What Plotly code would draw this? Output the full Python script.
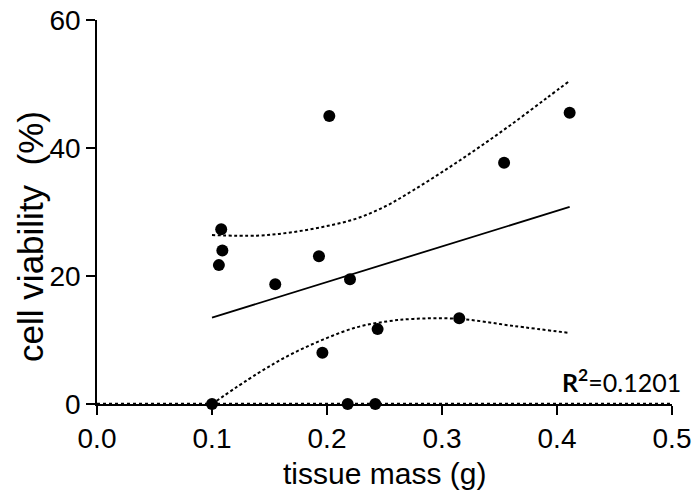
import plotly.graph_objects as go

# Scatter data
mass = [0.100, 0.108, 0.109, 0.106, 0.155, 0.193, 0.202, 0.196, 0.220, 0.218, 0.242, 0.244, 0.315, 0.354, 0.411]
viability = [0.0, 27.3, 24.0, 21.7, 18.7, 23.1, 45.0, 8.0, 19.5, 0.0, 0.0, 11.7, 13.4, 37.7, 45.5]

# Regression line (read)
fit_x = [0.100, 0.411]
fit_y = [13.5, 30.8]

# Confidence band curves (read)
upper_x = [0.100, 0.139, 0.168, 0.197, 0.226, 0.252, 0.275, 0.304, 0.333, 0.362, 0.391, 0.411]
upper_y = [26.4, 26.3, 26.8, 27.7, 29.0, 31.0, 33.4, 36.7, 40.2, 43.9, 47.8, 50.5]
lower_x = [0.100, 0.139, 0.168, 0.197, 0.226, 0.252, 0.275, 0.315, 0.362, 0.411]
lower_y = [0.0, 4.7, 7.7, 10.1, 12.0, 12.9, 13.3, 13.3, 12.2, 11.1]

# Zero reference line
zero_x = [0.0, 0.5]
zero_y = [0.0, 0.0]

x_ticks = [0.0, 0.1, 0.2, 0.3, 0.4, 0.5]
x_ticktext = ["0.0", "0.1", "0.2", "0.3", "0.4", "0.5"]
y_ticks = [0, 20, 40, 60]
y_ticktext = ["0", "20", "40", "60"]

FONT = "Liberation Sans, Arial, sans-serif"

fig = go.Figure()
fig.add_trace(go.Scatter(x=zero_x, y=zero_y, mode="lines",
                         line=dict(color="black", width=2.5, dash="dot"),
                         cliponaxis=False, showlegend=False))
fig.add_trace(go.Scatter(x=upper_x, y=upper_y, mode="lines",
                         line=dict(color="black", width=2, dash="3px,2.5px", shape="spline", smoothing=1),
                         showlegend=False))
fig.add_trace(go.Scatter(x=lower_x, y=lower_y, mode="lines",
                         line=dict(color="black", width=2, dash="3px,2.5px", shape="spline", smoothing=1),
                         cliponaxis=False, showlegend=False))
fig.add_trace(go.Scatter(x=fit_x, y=fit_y, mode="lines",
                         line=dict(color="black", width=1.8),
                         showlegend=False))
fig.add_trace(go.Scatter(x=mass, y=viability, mode="markers",
                         marker=dict(color="black", size=12, line=dict(width=0)),
                         cliponaxis=False, showlegend=False))

fig.update_layout(
    width=694, height=492,
    margin=dict(l=97, r=22, t=20, b=88, pad=0),
    paper_bgcolor="white", plot_bgcolor="white",
    font=dict(family=FONT, size=28, color="black"),
    showlegend=False,
    xaxis=dict(range=[0, 0.5], tickvals=x_ticks, ticktext=x_ticktext,
               showline=True, linecolor="black", linewidth=1.5,
               ticks="outside", ticklen=9, tickwidth=1.5, tickcolor="black",
               showgrid=False, zeroline=False, automargin=False,
               tickfont=dict(family=FONT, size=28, color="black")),
    yaxis=dict(range=[0, 60], tickvals=y_ticks, ticktext=y_ticktext,
               showline=True, linecolor="black", linewidth=1.5,
               ticks="outside", ticklen=9, tickwidth=1.5, tickcolor="black",
               showgrid=False, zeroline=False, automargin=False,
               tickfont=dict(family=FONT, size=28, color="black")),
    annotations=[
        dict(text="tissue mass (g)", xref="paper", yref="paper",
             x=0.5, y=-0.182, xanchor="center", yanchor="middle",
             showarrow=False, font=dict(family=FONT, size=30, color="black")),
        dict(text="cell viability  (%)", xref="paper", yref="paper",
             x=-0.116, y=0.436, xanchor="center", yanchor="middle", textangle=-90,
             showarrow=False, font=dict(family=FONT, size=35, color="black")),
        dict(text="<b>R</b><sup><b>2</b></sup>=0.1201", xref="paper", yref="paper",
             x=1.0197, y=0.012, xanchor="right", yanchor="bottom",
             showarrow=False, font=dict(family="Lato, Carlito, sans-serif", size=25, color="black")),
    ],
)

# Remove the page's default body margin so the figure sits at the window's corner.
fig.write_html("out.html", config={"displayModeBar": False},
               post_script="document.body.style.margin='0px';")
